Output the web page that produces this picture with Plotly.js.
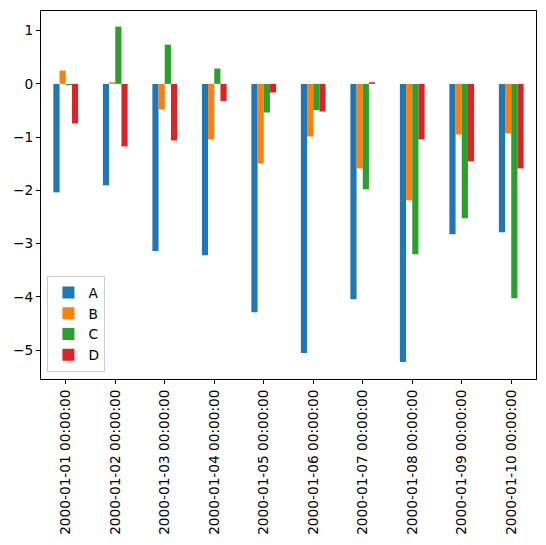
<!DOCTYPE html>
<html>
<head>
<meta charset="utf-8">
<script src="https://cdn.plot.ly/plotly-3.0.1.min.js"></script>
<style>html,body{margin:0;padding:0;background:#fff;}#chart{width:546px;height:545px;}</style>
</head>
<body>
<div id="chart"></div>
<script>
const categories = ["2000-01-01 00:00:00","2000-01-02 00:00:00","2000-01-03 00:00:00","2000-01-04 00:00:00","2000-01-05 00:00:00","2000-01-06 00:00:00","2000-01-07 00:00:00","2000-01-08 00:00:00","2000-01-09 00:00:00","2000-01-10 00:00:00"];
const seriesA = [-2.038,-1.906,-3.138,-3.219,-4.288,-5.056,-4.044,-5.225,-2.825,-2.788];
const seriesB = [0.25,0.03,-0.481,-1.044,-1.494,-0.988,-1.588,-2.188,-0.95,-0.931];
const seriesC = [-0.025,1.075,0.738,0.288,-0.538,-0.494,-1.981,-3.2,-2.525,-4.025];
const seriesD = [-0.744,-1.175,-1.063,-0.325,-0.163,-0.519,0.03,-1.044,-1.456,-1.588];
const seriesNames = ["A","B","C","D"];
const seriesColors = ["#1f77b4","#ff7f0e","#2ca02c","#d62728"];
const allSeries = [seriesA, seriesB, seriesC, seriesD];

const FONT = "'DejaVu Sans', sans-serif";
const FS = 13.7;

const traces = allSeries.map((vals, i) => ({
  type: "bar",
  x: categories,
  y: vals,
  name: seriesNames[i],
  legendgroup: seriesNames[i],
  marker: {color: seriesColors[i], line: {width: 0}}
}));

const axisLine = {showline: true, linecolor: "#000", linewidth: 1, mirror: true, zeroline: false, showgrid: false,
  ticks: "outside", ticklen: 4, tickwidth: 1, tickcolor: "#000", tickfont: {family: FONT, size: FS, color: "#000"}};

const layout = {
  width: 546, height: 545,
  font: {family: FONT, size: FS, color: "#000"},
  margin: {l: 41, r: 10, t: 11, b: 166},
  paper_bgcolor: "#fff", plot_bgcolor: "#fff",
  barmode: "group", bargap: 0.5, bargroupgap: 0,
  showlegend: true,
  legend: {x: 0.013, y: 0.019, xanchor: "left", yanchor: "bottom",
    bgcolor: "rgba(255,255,255,0.8)", bordercolor: "#cccccc", borderwidth: 1,
    font: {family: FONT, size: FS, color: "#000"}, tracegroupgap: 2, traceorder: "normal"},
  xaxis: Object.assign({}, axisLine, {type: "category", range: [-0.5, 9.5], tickangle: -90}),
  yaxis: Object.assign({}, axisLine, {range: [-5.544, 1.369], tickmode: "linear", tick0: 0, dtick: 1})
};

Plotly.newPlot("chart", traces, layout, {displayModeBar: false, staticPlot: true});
</script>
</body>
</html>
